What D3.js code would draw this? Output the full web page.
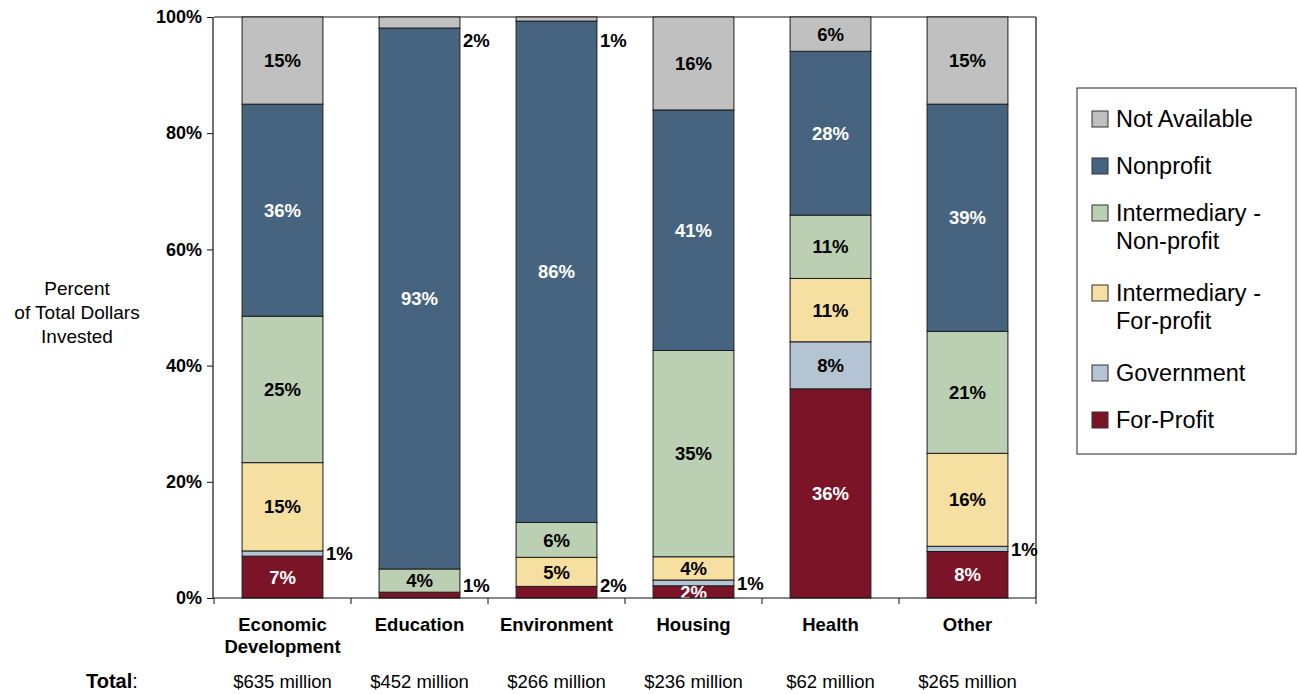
<!DOCTYPE html>
<html>
<head>
<meta charset="utf-8">
<script src="https://cdn.jsdelivr.net/npm/d3@7"></script>
<style>
  html, body { margin: 0; padding: 0; background: #fff; }
  svg { display: block; }
  text { font-family: "Liberation Sans", Arial, sans-serif; }
</style>
</head>
<body>
<svg id="chart" width="1298" height="694"></svg>
<script>
// ---------------- DATA ----------------
const categories = ["Economic Development", "Education", "Environment", "Housing", "Health", "Other"];
const totals = ["$635 million", "$452 million", "$266 million", "$236 million", "$62 million", "$265 million"];
const seriesNames = ["For-Profit", "Government", "Intermediary - For-profit", "Intermediary - Non-profit", "Nonprofit", "Not Available"];

const forProfit             = [7.2, 1.0, 2.0, 2.1, 36.0, 8.0];
const government            = [0.9, 0.0, 0.0, 1.0, 8.1, 0.9];
const intermediaryForProfit = [15.2, 0.0, 5.0, 4.0, 10.9, 16.0];
const intermediaryNonProfit = [25.2, 4.0, 6.0, 35.5, 10.9, 21.0];
const nonprofit             = [36.5, 93.1, 86.3, 41.4, 28.2, 39.1];
const notAvailable          = [15.0, 1.9, 0.7, 16.0, 5.9, 15.0];

const forProfitLabels             = ["7%", "1%", "2%", "2%", "36%", "8%"];
const governmentLabels            = ["1%", "", "", "1%", "8%", "1%"];
const intermediaryForProfitLabels = ["15%", "", "5%", "4%", "11%", "16%"];
const intermediaryNonProfitLabels = ["25%", "4%", "6%", "35%", "11%", "21%"];
const nonprofitLabels             = ["36%", "93%", "86%", "41%", "28%", "39%"];
const notAvailableLabels          = ["15%", "2%", "1%", "16%", "6%", "15%"];

// labels drawn beside the bar instead of inside it: [category index, series index]
const outsideLabels = [[0, 1], [1, 0], [1, 5], [2, 0], [2, 5], [3, 1], [5, 1]];

const yTicks = [0, 20, 40, 60, 80, 100];
const legendOrder = ["Not Available", "Nonprofit", "Intermediary - Non-profit", "Intermediary - For-profit", "Government", "For-Profit"];
const legendLines = [["Not Available"], ["Nonprofit"], ["Intermediary -", "Non-profit"], ["Intermediary -", "For-profit"], ["Government"], ["For-Profit"]];

// ---------------- STYLE ----------------
const colors = {
  "For-Profit": "#7a1426",
  "Government": "#b4c4d2",
  "Intermediary - For-profit": "#f5dfa1",
  "Intermediary - Non-profit": "#bbcfb2",
  "Nonprofit": "#46647f",
  "Not Available": "#c0c0c0"
};
const whiteText = new Set(["For-Profit", "Nonprofit"]);

const seriesValues = [forProfit, government, intermediaryForProfit, intermediaryNonProfit, nonprofit, notAvailable];
const seriesLabels = [forProfitLabels, governmentLabels, intermediaryForProfitLabels, intermediaryNonProfitLabels, nonprofitLabels, notAvailableLabels];

const table = categories.map((c, i) => {
  const row = { category: c };
  seriesNames.forEach((s, j) => row[s] = seriesValues[j][i]);
  return row;
});

const svg = d3.select("#chart");
const plot = { left: 214, right: 1036, top: 17, bottom: 598 };

const x = d3.scaleBand().domain(categories).range([plot.left, plot.right]).paddingInner(0.41).paddingOuter(0.205);
const y = d3.scaleLinear().domain([0, 100]).range([plot.bottom, plot.top]);

const stacked = d3.stack().keys(seriesNames)(table);

svg.append("defs").append("clipPath").attr("id", "plotClip")
  .append("rect").attr("x", plot.left).attr("y", 0).attr("width", plot.right - plot.left + 40).attr("height", plot.bottom);

// plot frame (top and right)
svg.append("line").attr("x1", plot.left).attr("x2", plot.right).attr("y1", plot.top).attr("y2", plot.top)
  .attr("stroke", "#111").attr("stroke-width", 1.2);
svg.append("line").attr("x1", plot.right).attr("x2", plot.right).attr("y1", plot.top).attr("y2", plot.bottom)
  .attr("stroke", "#111").attr("stroke-width", 1.2);

// bars
const layers = svg.append("g").selectAll("g").data(stacked).join("g")
  .attr("fill", d => colors[d.key]);
layers.selectAll("rect").data(d => d.filter(p => p[1] - p[0] > 0)).join("rect")
  .attr("x", d => x(d.data.category))
  .attr("width", x.bandwidth())
  .attr("y", d => y(d[1]))
  .attr("height", d => y(d[0]) - y(d[1]))
  .attr("stroke", "#1c1c1c")
  .attr("stroke-width", 1);

// segment labels
const outsideSet = new Set(outsideLabels.map(d => d[0] + "-" + d[1]));
const labelG = svg.append("g").attr("clip-path", "url(#plotClip)");
stacked.forEach((layer, j) => {
  layer.forEach((p, i) => {
    const txt = seriesLabels[j][i];
    if (!txt) return;
    const cy = (y(p[0]) + y(p[1])) / 2;
    const isOut = outsideSet.has(i + "-" + j);
    const t = labelG.append("text")
      .attr("font-size", 18.5).attr("font-weight", "bold")
      .attr("dy", "0.36em")
      .text(txt);
    if (isOut) {
      const yy = Math.max(y(100) + 23, Math.min(y(0) - 13, cy));
      t.attr("x", x(categories[i]) + x.bandwidth() + 3).attr("y", yy)
        .attr("text-anchor", "start").attr("fill", "#000");
    } else {
      t.attr("x", x(categories[i]) + x.bandwidth() / 2).attr("y", cy)
        .attr("text-anchor", "middle")
        .attr("fill", whiteText.has(seriesNames[j]) ? "#fff" : "#000");
    }
  });
});

// y axis
const yAxis = svg.append("g").attr("transform", `translate(${plot.left - 1},0)`)
  .call(d3.axisLeft(y).tickValues(yTicks).tickFormat(d => d + "%").tickSize(6).tickPadding(5));
yAxis.select(".domain").attr("stroke", "#111").attr("stroke-width", 1.2).attr("d", `M0,${plot.top}V${plot.bottom}`);
yAxis.selectAll(".tick line").attr("stroke", "#111");
yAxis.selectAll(".tick text").attr("font-size", 18).attr("font-weight", "bold").attr("fill", "#000")
  .attr("font-family", "Liberation Sans, Arial, sans-serif");

// x axis line and ticks at band boundaries
const xAxisG = svg.append("g");
xAxisG.append("line").attr("x1", plot.left - 1).attr("x2", plot.right).attr("y1", plot.bottom).attr("y2", plot.bottom)
  .attr("stroke", "#111").attr("stroke-width", 1.2);
const step = x.step();
const boundaries = categories.map(c => x(c) - x.paddingInner() * step / 2).concat([plot.right]);
xAxisG.selectAll("line.tk").data(boundaries).join("line").attr("class", "tk")
  .attr("x1", d => d).attr("x2", d => d).attr("y1", plot.bottom).attr("y2", plot.bottom + 6)
  .attr("stroke", "#111").attr("stroke-width", 1);

// category labels
categories.forEach(c => {
  const parts = c === "Economic Development" ? ["Economic", "Development"] : [c];
  const t = svg.append("text").attr("x", x(c) + x.bandwidth() / 2).attr("y", 631)
    .attr("text-anchor", "middle").attr("font-size", 18.5).attr("font-weight", "bold").attr("fill", "#000");
  parts.forEach((p, k) => t.append("tspan").attr("x", x(c) + x.bandwidth() / 2).attr("dy", k === 0 ? 0 : 22).text(p));
});

// totals row
const totalT = svg.append("text").attr("x", 86).attr("y", 688).attr("font-size", 20).attr("fill", "#000");
totalT.append("tspan").attr("font-weight", "bold").text("Total");
totalT.append("tspan").text(":");
totals.forEach((t, i) => {
  svg.append("text").attr("x", x(categories[i]) + x.bandwidth() / 2).attr("y", 688)
    .attr("text-anchor", "middle").attr("font-size", 18.5).attr("fill", "#000").text(t);
});

// y title
const yTitle = svg.append("text").attr("text-anchor", "middle")
  .attr("font-family", "Lato, 'Open Sans', sans-serif").attr("font-size", 19).attr("fill", "#000");
[["Percent", 295], ["of Total Dollars", 319], ["Invested", 343]].forEach(([s, yy]) =>
  yTitle.append("tspan").attr("x", 77).attr("y", yy).text(s));

// legend
const lg = svg.append("g");
lg.append("rect").attr("x", 1077).attr("y", 88).attr("width", 219).attr("height", 366)
  .attr("fill", "#fff").attr("stroke", "#222").attr("stroke-width", 1);
let ly = 119;
legendOrder.forEach((name, k) => {
  lg.append("rect").attr("x", 1092).attr("y", ly - 8).attr("width", 16).attr("height", 16)
    .attr("fill", colors[name]).attr("stroke", "#333").attr("stroke-width", 1);
  const t = lg.append("text").attr("x", 1116).attr("y", ly)
    .attr("font-size", 23.5).attr("fill", "#000");
  legendLines[k].forEach((line, m) => t.append("tspan").attr("x", 1116).attr("dy", m === 0 ? "0.36em" : 28).text(line));
  ly += 47 + 33 * (legendLines[k].length - 1);
});
</script>
</body>
</html>
